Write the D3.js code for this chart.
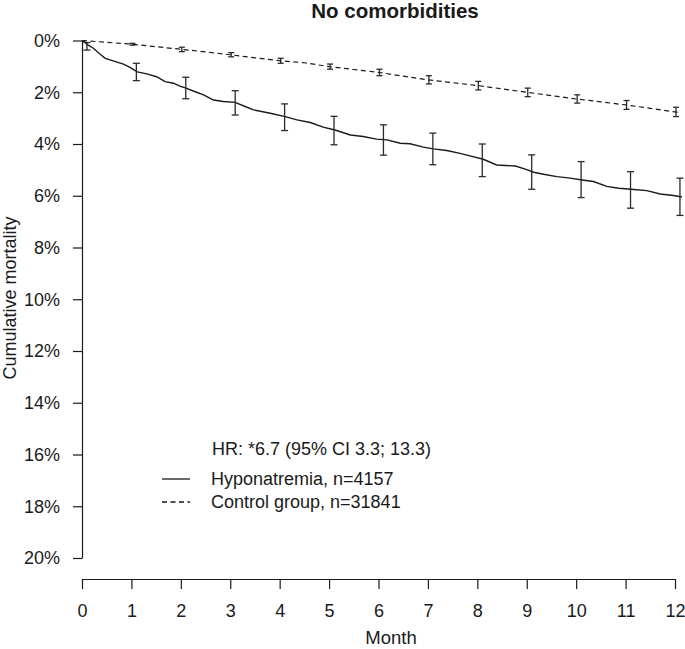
<!DOCTYPE html>
<html>
<head>
<meta charset="utf-8">
<script src="https://cdn.jsdelivr.net/npm/d3@7"></script>
<style>
  html, body { margin: 0; padding: 0; background: #fff; }
  svg { display: block; font-family: "Liberation Sans", Arial, sans-serif; }
</style>
</head>
<body>
<svg id="chart" width="685" height="649"></svg>
<script>
// ---- data ----
const title = "No comorbidities";
const xTicks = [0,1,2,3,4,5,6,7,8,9,10,11,12];
const yTicks = [0,2,4,6,8,10,12,14,16,18,20];

// Hyponatremia cumulative mortality curve (month, %)
const hypoMonths = [0,0.05,0.1,0.23,0.35,0.47,0.63,0.84,0.97,1.12,1.31,1.51,1.68,1.85,1.98,2.12,2.29,2.46,2.66,2.86,3.10,3.30,3.47,3.81,4.11,4.35,4.62,4.88,5.12,5.43,5.69,5.96,6.17,6.44,6.64,6.91,7.11,7.38,7.65,7.85,8.12,8.39,8.77,8.97,9.14,9.34,9.61,9.88,10.12,10.35,10.62,10.86,11.11,11.43,11.70,11.97,12.14];
const hypoValues = [0,0.04,0.15,0.30,0.50,0.69,0.79,0.91,1.04,1.21,1.29,1.40,1.59,1.65,1.76,1.85,1.98,2.10,2.30,2.36,2.39,2.55,2.68,2.81,2.94,3.07,3.17,3.35,3.46,3.65,3.71,3.81,3.84,3.97,3.99,4.12,4.19,4.25,4.36,4.46,4.59,4.81,4.85,4.97,5.09,5.17,5.26,5.32,5.39,5.45,5.64,5.71,5.75,5.80,5.93,5.99,6.05];

// Hyponatremia error bars
const hypoBarMonths = [0.1,1.1,2.1,3.1,4.1,5.1,6.1,7.1,8.1,9.1,10.1,11.1,12.1];
const hypoBarLower  = [0.08,0.88,1.42,1.94,2.45,2.93,3.26,3.58,4.00,4.42,4.68,5.07,5.32];
const hypoBarUpper  = [0.37,1.55,2.25,2.88,3.48,4.03,4.43,4.80,5.26,5.75,6.07,6.48,6.76];

// Control group curve (month, %)
const ctrlMonths = [0,0.5,1,1.5,2,2.5,3,3.5,4,4.5,5,5.5,6,6.5,7,7.5,8,8.5,9,9.5,10,10.5,11,11.5,12,12.1];
const ctrlValues = [0,0.07,0.14,0.24,0.34,0.44,0.55,0.67,0.78,0.86,1.01,1.12,1.23,1.38,1.52,1.63,1.74,1.87,2.00,2.13,2.26,2.37,2.49,2.62,2.76,2.80];

// Control group error bars
const ctrlBarMonths = [1.02,2.02,3.02,4.02,5.02,6.02,7.02,8.02,9.02,10.02,11.02,12.02];
const ctrlBarLower  = [0.11,0.26,0.47,0.69,0.91,1.11,1.36,1.58,1.84,2.10,2.32,2.58];
const ctrlBarUpper  = [0.18,0.43,0.63,0.88,1.11,1.36,1.68,1.91,2.17,2.42,2.66,2.94];

const legendHR = "HR: *6.7 (95% CI 3.3; 13.3)";
const legendLabels = ["Hyponatremia, n=4157", "Control group, n=31841"];

// ---- drawing ----
const svg = d3.select("#chart");
const ink = "#1a1a1a";
const x = d3.scaleLinear().domain([0, 12]).range([82, 675]);
const y = d3.scaleLinear().domain([0, 20]).range([40.5, 558]);

// Title
svg.append("text")
  .attr("x", 395).attr("y", 18)
  .attr("text-anchor", "middle")
  .attr("font-size", 20.5).attr("font-weight", "bold")
  .attr("fill", ink)
  .text(title);

// Y axis
const yAxis = svg.append("g")
  .attr("transform", "translate(82,0)")
  .call(d3.axisLeft(y).tickValues(yTicks).tickFormat(d => d + "%")
        .tickSize(9).tickSizeOuter(0).tickPadding(13));
// X axis
const xAxis = svg.append("g")
  .attr("transform", "translate(0,579)")
  .call(d3.axisBottom(x).tickValues(xTicks).tickFormat(d3.format("d"))
        .tickSize(10).tickSizeOuter(0).tickPadding(15));

[yAxis, xAxis].forEach(g => {
  g.selectAll("path.domain").attr("stroke", ink).attr("stroke-width", 1.2);
  g.selectAll(".tick line").attr("stroke", ink).attr("stroke-width", 1.2);
  g.selectAll(".tick text").attr("font-size", 18).attr("fill", ink)
    .attr("font-family", "Liberation Sans, Arial, sans-serif");
});

// Axis titles
svg.append("text")
  .attr("x", 391).attr("y", 644)
  .attr("text-anchor", "middle").attr("font-size", 18.5).attr("fill", ink)
  .text("Month");
svg.append("text")
  .attr("transform", "translate(16,298) rotate(-90)")
  .attr("text-anchor", "middle").attr("font-size", 18).attr("fill", ink)
  .text("Cumulative mortality");

const line = d3.line().x(d => x(d[0])).y(d => y(d[1]));

// Control (dashed)
svg.append("path")
  .datum(d3.zip(ctrlMonths, ctrlValues))
  .attr("d", line)
  .attr("fill", "none").attr("stroke", ink).attr("stroke-width", 1.2)
  .attr("stroke-dasharray", "5,3.5");

// Hyponatremia (solid)
svg.append("path")
  .datum(d3.zip(hypoMonths, hypoValues))
  .attr("d", line)
  .attr("fill", "none").attr("stroke", ink).attr("stroke-width", 1.4);

// Error bars
function errorBars(months, lo, hi, cap) {
  const g = svg.append("g").attr("stroke", "#2a2a2a").attr("stroke-width", 1.3).attr("fill", "none");
  months.forEach((m, i) => {
    const cx = x(m), y1 = y(lo[i]), y2 = y(hi[i]);
    g.append("line").attr("x1", cx).attr("x2", cx).attr("y1", y1).attr("y2", y2);
    g.append("line").attr("x1", cx - cap).attr("x2", cx + cap).attr("y1", y1).attr("y2", y1);
    g.append("line").attr("x1", cx - cap).attr("x2", cx + cap).attr("y1", y2).attr("y2", y2);
  });
}
errorBars(hypoBarMonths, hypoBarLower, hypoBarUpper, 3.5);
errorBars(ctrlBarMonths, ctrlBarLower, ctrlBarUpper, 3);

// Legend
svg.append("text")
  .attr("x", 212).attr("y", 455)
  .attr("font-size", 18).attr("fill", ink)
  .text(legendHR);
const legendY = [479, 502];
legendLabels.forEach((lab, i) => {
  svg.append("line")
    .attr("x1", 162).attr("x2", 190)
    .attr("y1", legendY[i]).attr("y2", legendY[i])
    .attr("stroke", ink).attr("stroke-width", 1.3)
    .attr("stroke-dasharray", i === 1 ? "5,3.5" : null);
  svg.append("text")
    .attr("x", 211).attr("y", legendY[i] + 6)
    .attr("font-size", 18).attr("fill", ink)
    .text(lab);
});
</script>
</body>
</html>
